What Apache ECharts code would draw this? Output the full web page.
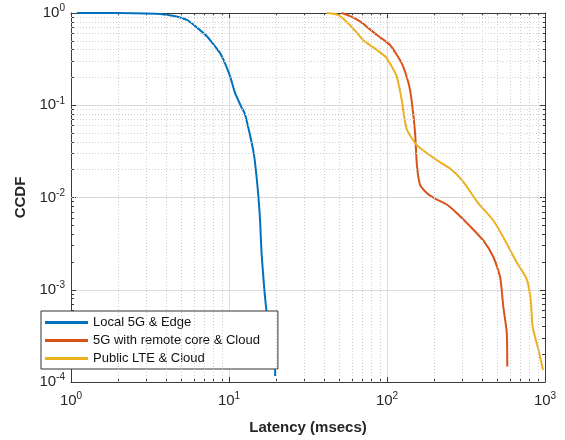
<!DOCTYPE html>
<html lang="en">
<head>
    <meta charset="utf-8">
    <title>CCDF latency</title>
    <script src="https://cdn.jsdelivr.net/npm/echarts@6/dist/echarts.min.js"></script>
    <style>
        body { margin: 0; background: #fff; }
    </style>
</head>
<body>
<div id="main" style="width: 565px;height:440px;"></div>
<script type="text/javascript">
    // values (latency in msecs, CCDF)
    var local5gLatency = [1.09, 2.0, 3.0, 3.66, 4.5, 5.42, 6.3, 7.26, 8.0, 8.76, 9.2, 10.15, 10.9, 12.0, 12.6, 13.6, 14.4, 14.9, 15.3, 15.7, 16.1, 17.3, 19.5, 19.6];
    var local5gCcdf = [1.0, 0.998, 0.99, 0.978, 0.93, 0.84, 0.69, 0.557, 0.455, 0.37, 0.314, 0.207, 0.137, 0.095, 0.081, 0.047, 0.029, 0.0176, 0.011, 0.006, 0.0024, 0.00058, 0.00024, 0.000116];

    var remoteLatency = [51.5, 58, 67.5, 76, 86, 104.5, 123.6, 136.5, 142.7, 150.5, 154.6, 162, 178.6, 200, 239, 276, 335, 408, 472, 520, 545, 573, 577];
    var remoteCcdf = [1.0, 0.93, 0.81, 0.69, 0.58, 0.45, 0.288, 0.176, 0.117, 0.051, 0.0225, 0.0137, 0.0112, 0.0098, 0.0084, 0.0068, 0.0049, 0.0034, 0.00225, 0.00137, 0.00065, 0.00034, 0.000147];

    var lteLatency = [41.5, 49.4, 59.7, 70.6, 86, 99.2, 115, 123.6, 133, 154.6, 206.7, 251, 303.6, 370, 472, 545, 660, 764, 812, 834, 908, 972];
    var lteCcdf = [1.0, 0.95, 0.71, 0.51, 0.40, 0.327, 0.207, 0.117, 0.0557, 0.037, 0.0254, 0.0206, 0.0149, 0.0091, 0.0056, 0.0037, 0.002, 0.00132, 0.00078, 0.0004, 0.000226, 0.000135];

    var seriesNames = ['Local 5G & Edge', '5G with remote core & Cloud', 'Public LTE & Cloud'];
    var seriesColors = ['#0072BD', '#D95319', '#EDB120'];

    var xMin = 1, xMax = 1000, yMin = 0.0001, yMax = 1;

    function pairs(xs, ys) {
        var out = [];
        for (var i = 0; i < xs.length; i++) {
            out.push([xs[i], ys[i]]);
        }
        return out;
    }

    // minor grid: 2..9 inside every decade
    function minorValues(lo, hi) {
        var v = [];
        for (var d = lo; d < hi; d *= 10) {
            for (var k = 2; k <= 9; k++) {
                v.push(d * k);
            }
        }
        return v;
    }
    var minorLines = [];
    minorValues(xMin, xMax).forEach(function (v) { minorLines.push({xAxis: v}); });
    minorValues(yMin, yMax).forEach(function (v) { minorLines.push({yAxis: v}); });

    function powLabel(value) {
        var e = Math.round(Math.log(value) / Math.LN10);
        return '{b|10}{s|' + e + '}';
    }
    var labelRich = {
        b: {fontSize: 15, color: '#262626', fontFamily: 'Liberation Sans, Arial'},
        s: {fontSize: 10, color: '#262626', fontFamily: 'Liberation Sans, Arial', padding: [0, 0, 9, 0]}
    };

    var axisLineStyle = {color: '#3a3a3a', width: 1};

    function boxAxis(type, pos, lo, hi) {
        return {
            type: 'log',
            logBase: 10,
            min: lo,
            max: hi,
            position: pos,
            axisLine: {show: true, lineStyle: axisLineStyle},
            axisTick: {show: true, inside: true, length: 5, lineStyle: axisLineStyle},
            minorTick: {show: true, splitNumber: 9, length: 3, lineStyle: axisLineStyle},
            axisLabel: {show: false},
            splitLine: {show: false}
        };
    }

    var myChart = echarts.init(document.getElementById('main'));
    var option = {
        animation: false,
        backgroundColor: '#fff',
        grid: {left: 71, right: 20, top: 13, bottom: 54},
        legend: {
            data: seriesNames,
            orient: 'vertical',
            left: 41,
            top: 311,
            width: 238,
            padding: [5, 18, 4, 4],
            itemGap: 5,
            itemWidth: 43,
            itemHeight: 3,
            icon: 'rect',
            backgroundColor: '#fff',
            borderColor: '#333',
            borderWidth: 1,
            textStyle: {fontSize: 13, color: '#111', fontFamily: 'Liberation Sans, Arial'}
        },
        xAxis: [{
            type: 'log',
            logBase: 10,
            min: xMin,
            max: xMax,
            name: 'Latency (msecs)',
            nameLocation: 'middle',
            nameGap: 38,
            nameTextStyle: {fontSize: 15, fontWeight: 'bold', color: '#262626', fontFamily: 'Liberation Sans, Arial'},
            axisLine: {show: true, lineStyle: axisLineStyle},
            axisTick: {show: true, inside: true, length: 5, lineStyle: axisLineStyle},
            minorTick: {show: true, splitNumber: 9, length: 3, lineStyle: axisLineStyle},
            axisLabel: {formatter: powLabel, rich: labelRich, margin: 9},
            splitLine: {show: true, lineStyle: {color: '#dcdcdc', width: 1}}
        }, boxAxis('x', 'top', xMin, xMax)],
        yAxis: [{
            type: 'log',
            logBase: 10,
            min: yMin,
            max: yMax,
            name: 'CCDF',
            nameLocation: 'middle',
            nameGap: 41,
            nameTextStyle: {fontSize: 15, fontWeight: 'bold', color: '#262626', fontFamily: 'Liberation Sans, Arial'},
            axisLine: {show: true, lineStyle: axisLineStyle},
            axisTick: {show: true, inside: true, length: 5, lineStyle: axisLineStyle},
            minorTick: {show: true, splitNumber: 9, length: 3, lineStyle: axisLineStyle},
            axisLabel: {formatter: powLabel, rich: labelRich, margin: 6},
            splitLine: {show: true, lineStyle: {color: '#dcdcdc', width: 1}}
        }, boxAxis('y', 'right', yMin, yMax)],
        series: [{
            name: 'minor-grid',
            type: 'line',
            data: [],
            z: 1,
            silent: true,
            markLine: {
                silent: true,
                symbol: ['none', 'none'],
                label: {show: false},
                lineStyle: {color: '#cfcfcf', type: [1, 2], width: 1},
                emphasis: {disabled: true},
                data: minorLines
            }
        }, {
            name: seriesNames[0],
            type: 'line',
            data: pairs(local5gLatency, local5gCcdf),
            showSymbol: false,
            smooth: 0.2,
            z: 3,
            color: seriesColors[0],
            lineStyle: {width: 2}
        }, {
            name: seriesNames[1],
            type: 'line',
            data: pairs(remoteLatency, remoteCcdf),
            showSymbol: false,
            smooth: 0.2,
            z: 3,
            color: seriesColors[1],
            lineStyle: {width: 2}
        }, {
            name: seriesNames[2],
            type: 'line',
            data: pairs(lteLatency, lteCcdf),
            showSymbol: false,
            smooth: 0.2,
            z: 3,
            color: seriesColors[2],
            lineStyle: {width: 2}
        }]
    };
    myChart.setOption(option);
</script>
</body>
</html>
